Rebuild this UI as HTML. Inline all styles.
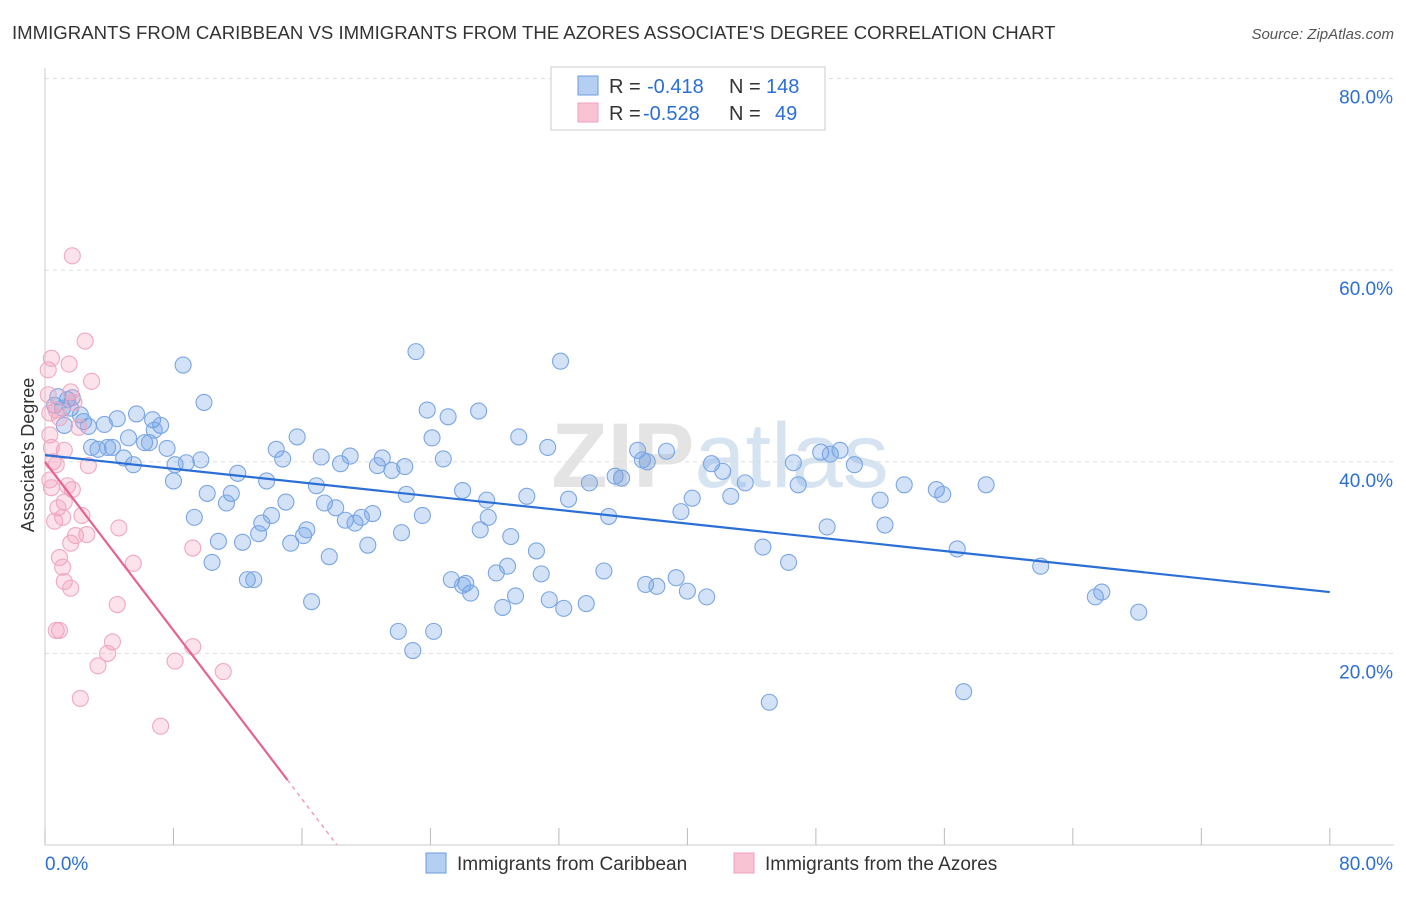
<!DOCTYPE html>
<html><head><meta charset="utf-8"><style>
body{margin:0;background:#fff;font-family:"Liberation Sans",sans-serif}
svg text{font-family:"Liberation Sans",sans-serif}
</style></head><body>
<svg id="chart" width="1406" height="892">
<text x="12" y="39" font-size="18.6" fill="#333">IMMIGRANTS FROM CARIBBEAN VS IMMIGRANTS FROM THE AZORES ASSOCIATE'S DEGREE CORRELATION CHART</text>
<text x="1394" y="39" font-size="15" fill="#555" font-style="italic" text-anchor="end">Source: ZipAtlas.com</text>
<text x="720" y="487" font-size="92" fill="#e4e4e4" text-anchor="middle" font-weight="bold">ZIP<tspan font-weight="normal" fill="#d6e4f2">atlas</tspan></text>
<g id="grid"></g><g id="axes"></g><g id="marks"></g>
<text transform="translate(34,455) rotate(-90)" font-size="18" fill="#333" text-anchor="middle">Associate's Degree</text>
<g>
<rect x="551" y="67" width="274" height="63" fill="#fff" stroke="#ccc"/>
<rect x="578" y="76" width="20" height="19" fill="#b5cff2" stroke="#6a9be0"/>
<rect x="578" y="103" width="20" height="19" fill="#f8c3d3" stroke="#f0a0bb"/>
<text x="609" y="93" font-size="20" fill="#333">R =</text>
<text x="647" y="93" font-size="20" fill="#2b6fd6">-0.418</text>
<text x="729" y="93" font-size="20" fill="#333">N =</text>
<text x="766" y="93" font-size="20" fill="#2b6fd6">148</text>
<text x="609" y="120" font-size="20" fill="#333">R =</text>
<text x="643" y="120" font-size="20" fill="#2b6fd6">-0.528</text>
<text x="729" y="120" font-size="20" fill="#333">N =</text>
<text x="775" y="120" font-size="20" fill="#2b6fd6">49</text>
</g>
<g>
<rect x="426" y="853" width="20" height="20" fill="#b5cff2" stroke="#6a9be0"/>
<text x="457" y="870" font-size="19" fill="#333">Immigrants from Caribbean</text>
<rect x="734" y="853" width="20" height="20" fill="#f8c3d3" stroke="#f0a0bb"/>
<text x="765" y="870" font-size="19" fill="#333">Immigrants from the Azores</text>
</g>
</svg>
<script>
const blueX=[8.6,9.9,23.1,32.1,23.8,25.1,27.0,24.1,29.5,31.3,24.8,22.4,20.7,21.6,21.0,15.7,14.4,14.8,17.2,18.4,19.0,12.0,13.8,8.1,8.8,9.7,8.0,10.1,11.6,11.3,9.3,10.8,12.3,10.4,12.6,13.0,13.5,14.1,13.3,15.0,15.3,16.1,16.3,17.7,16.6,16.9,17.4,18.1,18.7,19.3,19.7,20.4,20.1,22.5,22.2,23.5,26.0,27.5,27.6,27.1,29.0,30.0,30.6,32.6,33.9,35.1,35.5,35.9,36.9,37.2,37.5,38.7,39.6,40.3,41.5,42.2,42.7,43.6,46.6,46.9,44.7,46.3,48.3,48.9,49.5,50.4,48.7,52.0,52.3,53.5,55.5,55.9,58.6,56.8,62.0,65.4,65.8,68.1,57.2,45.1,25.3,26.0,26.5,26.2,28.1,28.5,28.8,29.3,30.9,31.4,32.3,33.7,34.8,37.4,38.1,39.3,40.0,41.2,22.0,22.9,24.2,0.6,0.8,1.1,1.4,1.6,1.7,1.2,2.2,2.4,2.7,2.9,3.3,3.7,3.9,4.2,4.5,4.9,5.2,5.5,5.7,6.2,6.5,6.7,7.2,7.6,6.8];
const blueY=[50.1,46.2,51.5,50.5,45.4,44.7,45.3,42.5,42.6,41.5,40.3,39.5,39.6,39.1,40.4,42.6,41.3,40.3,40.5,39.8,40.6,38.8,38.0,39.7,39.9,40.2,38.0,36.7,36.7,35.7,34.2,31.7,31.6,29.5,27.7,27.7,33.6,34.4,32.5,35.8,31.5,32.3,32.9,30.1,25.4,37.5,35.7,35.2,33.9,33.6,34.2,34.6,31.3,36.6,32.6,34.4,37.0,36.0,34.2,32.9,32.2,36.4,30.7,36.1,37.8,34.3,38.5,38.3,41.2,40.2,40.0,41.1,34.8,36.2,39.8,39.0,36.4,37.8,39.9,37.6,31.1,29.5,41.0,40.8,41.2,39.7,33.2,36.0,33.4,37.6,37.1,36.6,37.6,30.9,29.1,25.9,26.4,24.3,16.0,14.9,27.7,27.1,26.3,27.3,28.4,24.8,29.1,26.0,28.3,25.6,24.7,25.2,28.6,27.2,27.0,27.9,26.5,25.9,22.3,20.3,22.3,45.9,46.8,45.6,46.5,45.6,46.7,43.8,44.9,44.2,43.7,41.5,41.3,43.9,41.5,41.5,44.5,40.4,42.5,39.7,45.0,42.0,42.0,44.4,43.8,41.4,43.3];
const pinkX=[1.7,2.5,0.4,1.5,0.2,2.9,1.6,0.7,0.9,1.8,2.1,0.3,1.2,0.5,0.7,2.7,0.3,0.4,1.4,1.7,1.2,0.8,1.1,2.3,0.6,4.6,1.6,2.6,1.9,0.9,1.1,5.5,1.2,1.6,9.2,4.5,0.7,0.9,4.2,3.9,3.3,9.2,8.1,11.1,2.2,7.2,0.3,0.4,0.2];
const pinkY=[61.5,52.6,50.8,50.2,49.6,48.4,47.3,45.4,44.6,46.2,43.6,42.8,41.2,40.0,39.7,39.6,38.1,37.3,37.5,37.1,35.8,35.2,34.2,34.4,33.8,33.1,31.5,32.4,32.3,30.0,29.0,29.4,27.5,26.8,31.0,25.1,22.4,22.4,21.2,20.0,18.7,20.7,19.2,18.1,15.3,12.4,45.1,41.5,47.0];
const blueTrend=[40.7,26.4];
const pinkTrend=[40.0,-2.2];
const yTicks=[20,40,60,80];
const xTicks=[0,8,16,24,32,40,48,56,64,72,80];
const NS="http://www.w3.org/2000/svg";
const sx=v=>45+v*16.06, sy=v=>845-v*9.58;
function mk(tag,attrs,parent){const e=document.createElementNS(NS,tag);for(const k in attrs)e.setAttribute(k,attrs[k]);parent.appendChild(e);return e;}
const grid=document.getElementById('grid'),axes=document.getElementById('axes'),marks=document.getElementById('marks');
yTicks.forEach(t=>{
 const l=mk('line',{x1:45,x2:1394,y1:sy(t),y2:sy(t),stroke:'#ddd','stroke-dasharray':'4,4'},grid);
 
 
 const tx=mk('text',{x:1393,y:sy(t)+25,'font-size':19,fill:'#2b6fd6','text-anchor':'end'},axes);tx.textContent=t.toFixed(1)+'%';
 
 
});
mk('line',{x1:45,x2:45,y1:68,y2:845,stroke:'#ccc'},axes);
mk('line',{x1:45,x2:1394,y1:845,y2:845,stroke:'#ccc'},axes);
xTicks.forEach(t=>{const l=mk('line',{x1:sx(t),x2:sx(t),y1:828,y2:845,stroke:'#bbb'},axes);
 
 });
[[0,'start',45],[80,'end',1393]].forEach(([v,a,x])=>{const tx=mk('text',{x:x,y:870,'font-size':19,fill:'#2b6fd6','text-anchor':a},axes);tx.textContent=v.toFixed(1)+'%';
 
 });
blueX.forEach((x,i)=>{const c=mk('circle',{cx:sx(x),cy:sy(blueY[i]),r:8,fill:'rgba(110,160,230,0.3)',stroke:'#7aa6e4','stroke-width':1.1},marks);
 
 });
pinkX.forEach((x,i)=>{const c=mk('circle',{cx:sx(x),cy:sy(pinkY[i]),r:8,fill:'rgba(245,160,190,0.3)',stroke:'#f0a8c0','stroke-width':1.1},marks);
 
 });
const bl=mk('line',{x1:sx(0),y1:sy(blueTrend[0]),x2:sx(80),y2:sy(blueTrend[1]),stroke:'#2b6fd6','stroke-width':2.2},marks);


const pe=15.1, pz=-pinkTrend[0]/pinkTrend[1];
const pl=mk('line',{x1:sx(0),y1:sy(pinkTrend[0]),x2:sx(pe),y2:sy(pinkTrend[0]+pinkTrend[1]*pe),stroke:'#e8628f','stroke-width':2.2},marks);


const pd=mk('line',{x1:sx(pe),y1:sy(pinkTrend[0]+pinkTrend[1]*pe),x2:sx(pz),y2:sy(0),stroke:'#f0a0bb','stroke-width':1.5,'stroke-dasharray':'4,4'},marks);


</script>
</body></html>
